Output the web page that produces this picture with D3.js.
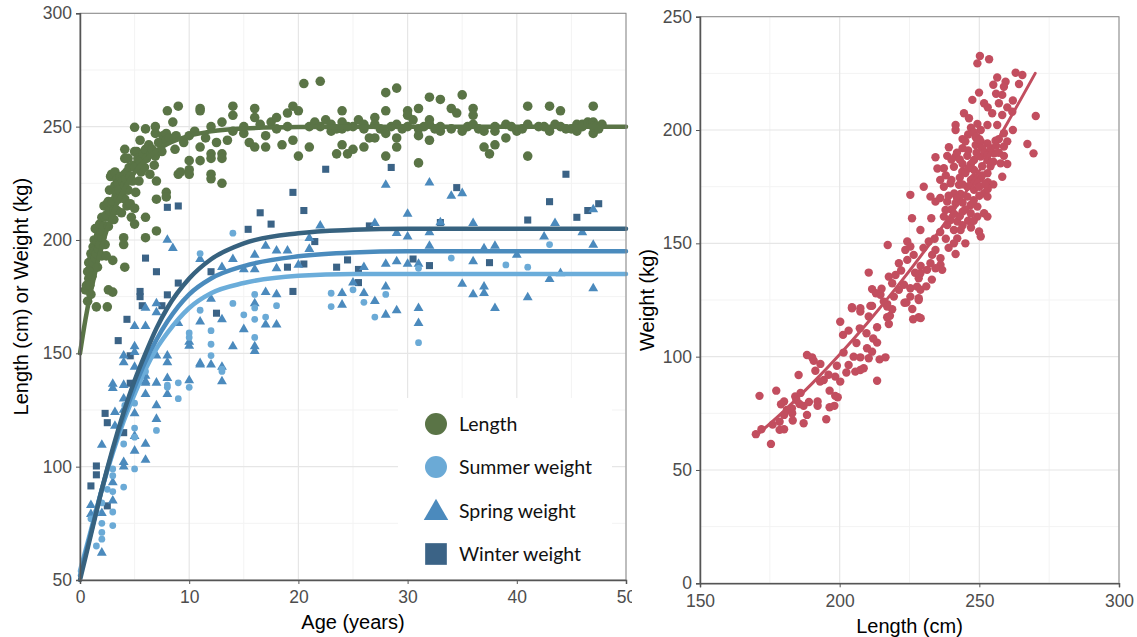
<!DOCTYPE html>
<html>
<head>
<meta charset="utf-8">
<script src="https://cdn.jsdelivr.net/npm/d3@7"></script>
<style>
  body { margin: 0; background: #fff; }
  svg { display: block; }
  .title { font-family: "Liberation Sans", Arimo, Arial, sans-serif; font-size: 20px; fill: #000; }
  .leg { font-family: Lato, "Open Sans", sans-serif; font-size: 19.5px; fill: #111; }
</style>
</head>
<body>
<script>
// ---- data: left panel (age in years, value) ----
const lengthPts = [
  [0.5,178],[0.6,180],[0.7,186],[0.7,173],[0.8,190],[0.8,183],[0.9,187],[0.9,180],[1.0,194],[1.0,176],[1.0,186],
  [1.1,184],[1.1,192],[1.2,197],[1.2,190],[1.3,200],[1.3,195],[1.4,205],[1.4,192],[1.5,194],[1.5,205],[1.5,170.5],
  [1.6,188],[1.6,199],[1.7,202],[1.7,196],[1.8,207],[1.8,198],[1.9,203],[2.0,193],[2.0,210],[2.0,201],[2.1,204],
  [2.2,215],[2.2,206],[2.3,210],[2.3,198],[2.4,193],[2.4,211],[2.5,216],[2.5,170.5],[2.6,217],[2.6,178],[2.6,206],
  [2.7,222],[2.7,213],[2.8,228],[2.9,229],[2.9,216],[3.0,191],[3.0,177],[3.0,217],[3.1,213],[3.1,209],[3.2,230],
  [3.2,224],[3.3,219],[3.3,221],[3.4,227],[3.4,213],[3.5,218],[3.5,225],[3.6,222],[3.7,228],[3.8,212],[3.9,226],
  [3.9,219],[4.0,201],[4.0,198],[4.1,240],[4.1,236],[4.1,229],[4.1,224],[4.1,218],[4.1,188],[4.2,227],[4.3,230],
  [4.3,215],[4.4,222],[4.4,236],[4.5,232],[4.6,216],[4.6,228],[4.7,210],[4.8,226],[4.9,233],[5.0,249.7],[5.0,232],
  [5.0,239],[5.0,214],[5.0,207],[5.1,221],[5.2,239],[5.3,236],[5.4,226],[5.5,244],[5.5,235],[5.6,230],[5.8,238],
  [5.9,232],[6.0,249],[6.0,240],[6.0,210],[6.0,201],[6.1,236],[6.3,242],[6.4,229],[6.5,238],[6.6,240],[6.8,233],
  [6.9,250],[6.9,247],[6.9,237],[7.0,226],[7.0,218],[7.0,204],[7.2,243],[7.5,239],[7.6,246],[7.9,247],[7.9,244],
  [7.9,221],[7.9,219],[8.0,257],[8.2,245],[8.5,252],[8.7,240],[8.8,246],[9.0,259],[9.0,229],[9.2,230],[9.5,243],
  [10,246],[10,235],[10,231],[10,229],[10.5,248],[11,258],[11,257],[11,241],[11,235],[11.5,245],[12,250],[12,238],
  [12,236],[12,229],[12,227],[12.5,243],[13,238],[13,236],[13,225],[13,252],[13.5,244],[14,259],[14,255],[14,248],
  [15,250],[15,247],[15.5,243],[16,258],[16,254],[16,241],[16.5,251],[17,246],[17,241],[17.5,252],[18,249],[18,254],
  [18.5,242],[19,256],[19,250],[19.5,259],[19.5,244],[20,257],[20,237],[20.5,269],[21,241],[21,250],[21.5,252],
  [22,270],[22,250],[22.5,253],[23,248],[23,251],[23.5,238],[23.5,249],[24,257],[24,252],[24,249],[24,242],
  [24.5,238],[24.5,250],[25,240],[25,250],[25.5,253],[26,241],[26,249],[26,251],[26.5,245],[27,254],[27,245],
  [27,251],[27.5,249],[28,265],[28,257],[28,247],[28,237],[28.5,250],[29,267],[29,251],[29,245],[29,241],
  [29.5,249],[30,257],[30,255],[30,250],[30.5,253],[31,258],[31,249],[31,246],[31,234],[31.5,250],[32,263],
  [32,253],[32,244],[32,251],[32.5,249],[33,262],[33,248],[33,250],[34,258],[34,249],[34.5,256],[35,264],[35,248],
  [35.5,250],[36,258],[36,255],[36,251],[36.5,249],[37,248],[37,241],[37.5,238],[38,248],[38,242],[38,250],[39,245],
  [39,251],[39.5,250],[40,248],[40.5,249],[41,259],[41,251],[41,237],[42,250],[42.5,250],[43,259],[43,248],
  [43.5,251],[44,257],[44,250],[44.5,249],[45,249],[45.5,251],[45.5,248],[46,251],[46,250],[46.5,252],[46.8,251],
  [47,259],[47,252],[47,247],[47,250],[47.3,250],[47.5,249],[47.8,251]
];
const summerPts = [
  [1.0,77],[1.5,65],[1.5,80],[2,68],[2,71],[2,75],[2,84],[2.5,90],[3,74],[3,80],[3,89],[3,96],[3,99],[4,91],
  [4,110],[4.1,127],[5,99],[5,113],[5,117],[5,128],[6,142],[7,116],[8,135],[8,136],[9,137],[9,130],[10,135],
  [10,157],[10,159],[11,169],[11,194],[12,160],[12,154],[12,149],[13,142],[13,143],[14,172],[14,203],[15,167],
  [16,176],[16,170],[16,165],[16,157],[17,166],[18,171],[23,176.5],[23,170.6],[25,178],[26,172.5],[27,166],
  [28,176],[31,187.5],[31,154.7],[34,192],[39,189],[41,188],[43,198]
];
const springPts = [
  [1,83],[1,79],[2,109.6],[2,62],[2,79.5],[3,136.5],[3,134.6],[3,93],[3,85],[3.2,124],[3.2,118],[4,136],[4,130],
  [4,125],[4,102],[4,100],[4,146],[4,149],[5,123.5],[5,113.5],[5,107],[5,144],[5,162],[5,153],[5,150.5],[6,137],
  [6,132],[6,110],[6,103],[6,140],[6,170],[6,162],[6,137.6],[7,137],[7,127],[7,121],[7,149],[7,172],[7,168],
  [8,139],[8,132],[8,200],[8,149],[8,146],[8.5,196.4],[9,163.3],[10,138],[10,155],[10,153.3],[11,145],[11,191.5],
  [11,164],[11,145.6],[12,145],[12,174],[13,144],[13,188],[13,165],[13,137.6],[14,191.5],[14,153],[15,187],
  [15,160.6],[16,193.4],[16,187],[16,172],[16,153],[16,151],[17,197.4],[17,177],[17,162.6],[18,195.3],[18,187.5],
  [18,176],[18,162.6],[19,195.3],[20,189],[21,200.8],[21,196],[22,206.3],[24,176.5],[24,171.4],[25,181.2],
  [26,188],[26,176.5],[27,207.4],[27,173],[28,224.3],[28,189.4],[28,179.4],[28,167],[29,203],[29,190.5],[29,168.9],
  [30,211.5],[30,201.5],[30,189.4],[31,189.4],[31,169.9],[31,163.3],[32,225.3],[32,203.3],[32,197.4],[33,207.7],
  [34,219.4],[35,220.6],[35,180.6],[36,207.4],[36,190.5],[36,176],[37,196.3],[37,179.4],[37,176.5],[38,197.4],
  [38,169.9],[40,193.4],[41,174.7],[42.5,201.5],[43,182.7],[43.5,207.4],[44,185.3],[46,203.3],[47,213.5],
  [47,197.8],[47,178.6]
];
const winterPts = [
  [1,91.5],[1.5,100.3],[1.5,96.4],[2.3,123.5],[2.5,119.4],[2.5,82.7],[3.5,155.6],[4,115],[4.3,165],[4.6,136.8],
  [4.6,148.9],[5.5,177.3],[5.5,175],[5.7,171],[6,192],[7,186],[7.5,171],[8,214.4],[8,175.8],[9,215],[9,181],
  [12,186],[12.5,167.7],[15.4,204.7],[16.5,212],[17.5,207],[19,188],[19.5,221],[19.5,177.3],[20.5,213],
  [20.5,189.4],[21.5,199.3],[22.5,231.2],[23.5,188],[24.5,191.2],[25.5,187],[25.5,181.2],[26.5,206.2],[28.5,232],
  [30.5,191.6],[32,188.7],[33,207.7],[34.5,223.1],[37.5,190],[41,208.8],[43,216.9],[44.5,229],[45.5,210],
  [46.5,213],[47.5,216]
];
// fitted growth curves
const lengthCurve = [[0,150],[0.5,165],[1,177.4],[1.5,188],[2,197.3],[3,211.7],[4,222.2],[5,229.8],[6,235.3],
  [7,239.4],[8,242.3],[10,245.9],[12,247.9],[15,249.2],[20,249.8],[30,250],[50,250]];
const winterCurve = [[0,50],[1,70],[2,90],[3,108],[4,124],[5,138],[6,150],[7,161],[8,170],[10,183],[12,191.5],
  [15,198.5],[20,203],[25,204.5],[30,205],[50,205]];
const springCurve = [[0,52],[1,71],[2,90],[3,107],[4,122],[5,135],[6,146.5],[7,156],[8,164],[10,176],[12,183],
  [15,188.5],[20,192.8],[25,194.5],[30,195],[50,195]];
const summerCurve = [[0,54],[1,72],[2,90],[3,106],[4,120],[5,132],[6,143],[7,152],[8,159],[10,170],[12,176.5],
  [15,181],[20,184.2],[25,185],[30,185],[50,185]];

// ---- data: right panel (length cm, weight kg) ----
const lwPts = [
  [170,65.8],[175.4,61.5],[171.3,82.7],[177.3,85],[180.1,80.2],[184.1,82.4],[184.5,80.9],[185.6,79.1],[187.1,78.3],
  [182.9,77.2],[181.1,76.5],[180.1,74.3],[178.5,71.3],[178.5,67.7],[180.1,68],[183.2,71.8],[187.1,70.6],[188.3,74.3],
  [185.3,91.9],[191.3,93.8],[193.1,96.8],[188.3,100.7],[190.1,99.7],[190.7,98.2],[192.1,80.2],[192.1,78.3],
  [195.2,72.4],[196.4,85],[198.4,82.7],[199.3,82.1],[196.4,77.7],[198.1,78.3],[194.3,89.7],[198.4,91.2],[200.2,89],
  [201.4,101.8],[200.2,115.4],[201.2,109.6],[203.2,111.5],[204.4,121.3],[207.4,119.9],[210.4,117.7],[211.6,122.4],
  [207.2,112.5],[209.6,110.3],[213.4,113],[213.4,106.2],[211.6,102.2],[210.4,99.3],[207.4,99.7],[209.8,103.7],
  [203.2,96.3],[202.4,93],[205.6,93.4],[207.4,94.1],[208.6,94.9],[213.4,89.4],[214.3,98.8],[216.4,99.7],[217,123.2],
  [218.8,120.9],[217,117.4],[217.6,114.4],[223.2,123.8],[226.3,116.5],[228.3,117.4],[228.3,125],
  [250.2,232.7],[253.5,231.2],[249.3,229.4],[256.4,223.2],[259.4,221.3],[263,225.3],[265.4,224.3],[264.2,220.3],
  [258.8,219.1],[270.2,206.2],[267.2,193.8],[269.4,189.7],[249.9,216.5],[247.5,213.3],[251.7,211.8],[258.2,215.5],
  [257,211.8],[261.8,208.1],[254.6,207.4],[258.2,206.6],[244.5,207.4],[246.3,205.2],[241.5,202.2],[241.5,200],
  [249.3,202.7],[250.5,200],[252.9,202.2],[256.4,202.2],[258.8,198.6],[248.7,196.8],[248.7,193.4],[250.5,194.9],
  [252.9,194.1],[255.8,195.3],[258.8,192.7],[258.8,188.6],[257.6,185.3],[258.2,179.4],[239.1,192.4],[234.3,188],
  [238.5,188.6],[241.5,188.3],[245.7,188.6],[248.1,186.8],[250.5,188.3],[252.9,186.8],[255.3,189.7],[252.9,180.9],
  [237.3,183.1],[240.9,183.8],[243.9,181.6],[248.1,182.4],[250.5,178.7],[237.3,175],[239.7,176.5],[242.7,175.8],
  [245.7,175],[248.1,173.6],[251.7,172.1],[252.9,170.6],[243.3,171.8],[245.7,170.6],[230.1,175],[232.5,170.6],
  [234.3,168.4],[225.3,171.4],[238.5,168.4],[241.5,167.7],[246.9,166.9],[249.3,166.2],[251.7,163.3],[252.9,161.8],
  [246.9,163.3],[249.3,161.8],[249.9,155.2],[250.5,153],[237.9,164.7],[237.3,161.8],[239.7,160.3],[242.1,159.6],
  [238.5,158.1],[240.9,155.9],[243.3,155.9],[242.1,152.2],[240.9,150],[241.5,145.3],[232.8,161.1],[228.9,155.9],
  [225.9,161.1],[231.9,150.8],[234.3,147.1],[233.1,144.9],[236.1,143.4],[236.1,140.5],[236.7,138.3],[232.5,141.2],
  [234.3,139],[231.3,138.3],[228.9,136.8],[228.3,134.6],[226.5,144.9],[224.2,150.8],[223.5,147.1],[225.3,148.6],
  [217.2,149.3],[221.2,141.2],[224.2,142.7],[210.4,137.1],[217.6,135.3],[218.8,132.4],[221.2,129.5],[223,131.7],
  [225.3,130.2],[227.7,130.9],[228.9,129.5],[228.3,125.8],[225.3,126.5],[223.9,123.9],[219.4,126.5],[211.6,129.8],
  [214.6,127.3],[215.8,124.3],[217,122.1],[204.4,121.8],[207.4,121.4],[211,122.4],
  [244,196],[246,191],[247,185],[249,190],[251,184],[253,177],[247,178],[244,168],[246,160],[245,150],[244,158],
  [240,165],[236,170],[244,185],[254,184],[255,176],[253,174],[250,171],[248,169],
  [242,190],[243,187],[244,192],[245,195],[246,198],[247,201],[248,199],[249,197],[250,196],[251,192],[252,190],
  [253,189],[254,192],[255,186],[256,193],[257,196],[243,179],[244,176],[245,181],[246,183],[247,176],[248,179],
  [249,177],[250,175],[251,180],[252,176],[240,178],[241,172],[242,170],[239,171],[238,180],[236,178],[235,183],
  [240,187],[241,163],[243,162],[244,164],[247,157],[248,160],[245,165],[236,155],[238,152],[239,148],[234,152],
  [230,148],[229,140],[227,137],[222,138],[220,136],[215,130],[213,128],[231,131],[233,134],[226,121],[229,117],
  [218,118],[212,108],[206,106],[205,100],[199,96],[196,92],[193,89],[186,84],[183,75],[189,80],[179,79],[176,70],
  [172,68],[260,210],[262,213],[256,216],[255,220],[253,210],[260,195],[262,200],[257,190],[260,185]
];
const lwCurve = [[170,65],[180,76],[190,88],[200,101],[210,115],[220,130],[230,146],[240,163],[250,182],[260,203],[270,225]];

const legendItems = [
  { label: "Length", shape: d3.symbolCircle, color: "#5a7446" },
  { label: "Summer weight", shape: d3.symbolCircle, color: "#6baad6" },
  { label: "Spring weight", shape: d3.symbolTriangle, color: "#4b8abd" },
  { label: "Winter weight", shape: d3.symbolSquare, color: "#3b6386" }
];

const W = 1137, H = 637;
const svg = d3.select("body").append("svg").attr("width", W).attr("height", H);
const tickFont = "'Liberation Sans', Arimo, Arial, Helvetica, sans-serif";

function gridLines(g, x, y, xMajor, xMinor, yMajor, yMinor, x0, x1, y0, y1) {
  g.append("g").selectAll("line").data(xMinor).join("line")
    .attr("x1", d => x(d)).attr("x2", d => x(d)).attr("y1", y0).attr("y2", y1)
    .attr("stroke", "#f3f3f3").attr("stroke-width", 1);
  g.append("g").selectAll("line").data(yMinor).join("line")
    .attr("y1", d => y(d)).attr("y2", d => y(d)).attr("x1", x0).attr("x2", x1)
    .attr("stroke", "#f3f3f3").attr("stroke-width", 1);
  g.append("g").selectAll("line").data(xMajor).join("line")
    .attr("x1", d => x(d)).attr("x2", d => x(d)).attr("y1", y0).attr("y2", y1)
    .attr("stroke", "#e6e6e6").attr("stroke-width", 1.2);
  g.append("g").selectAll("line").data(yMajor).join("line")
    .attr("y1", d => y(d)).attr("y2", d => y(d)).attr("x1", x0).attr("x2", x1)
    .attr("stroke", "#e6e6e6").attr("stroke-width", 1.2);
}

function drawAxes(g, x, y, xMajor, yMajor, x0, x1, y0, y1) {
  g.append("rect").attr("x", x0).attr("y", y0).attr("width", x1 - x0).attr("height", y1 - y0)
    .attr("fill", "none").attr("stroke", "#8a8a8a").attr("stroke-width", 1);
  const ax = g.append("g").attr("transform", `translate(0,${y1})`)
    .call(d3.axisBottom(x).tickValues(xMajor).tickSize(4).tickPadding(7));
  const ay = g.append("g").attr("transform", `translate(${x0},0)`)
    .call(d3.axisLeft(y).tickValues(yMajor).tickSize(4).tickPadding(4));
  [ax, ay].forEach(a => {
    a.attr("font-family", tickFont).attr("font-size", 17.5);
    a.selectAll(".tick text").attr("fill", "#4d4d4d");
    a.select(".domain").attr("stroke", "#555").attr("stroke-width", 1.5);
    a.selectAll(".tick line").attr("stroke", "#555");
  });
}

// ---------- left panel ----------
const L = { x0: 80, x1: 626, y0: 13.3, y1: 580 };
svg.append("clipPath").attr("id", "leftClip").append("rect")
  .attr("x", 0).attr("y", 0).attr("width", 632).attr("height", H);
const left = svg.append("g").attr("clip-path", "url(#leftClip)");
const xA = d3.scaleLinear().domain([0, 50]).range([L.x0, L.x1]);
const yA = d3.scaleLinear().domain([50, 300]).range([L.y1, L.y0]);

gridLines(left, xA, yA, d3.range(0, 51, 10), d3.range(5, 50, 10),
  d3.range(50, 301, 50), d3.range(75, 300, 50), L.x0, L.x1, L.y0, L.y1);

const sym = (shape, size) => d3.symbol().type(shape).size(size)();

function pts(data, shape, size, color) {
  left.append("g").selectAll("path").data(data).join("path")
    .attr("transform", d => `translate(${xA(d[0])},${yA(d[1])})`)
    .attr("d", sym(shape, size)).attr("fill", color);
}
pts(winterPts, d3.symbolSquare, 50, "#3b6386");
pts(springPts, d3.symbolTriangle, 42, "#4b8abd");
pts(summerPts, d3.symbolCircle, 36, "#6baad6");
pts(lengthPts, d3.symbolCircle, 72, "#5a7446");

const lineA = d3.line().x(d => xA(d[0])).y(d => yA(d[1])).curve(d3.curveMonotoneX);
[[summerCurve, "#6badda"], [springCurve, "#4a8bbd"], [winterCurve, "#37627f"], [lengthCurve, "#5a7446"]]
  .forEach(([c, col]) => {
    left.append("path").datum(c).attr("d", lineA).attr("fill", "none")
      .attr("stroke", col).attr("stroke-width", 4.5).attr("stroke-linecap", "round");
  });

// legend
const lg = left.append("g");
lg.append("rect").attr("x", 398).attr("y", 398).attr("width", 214).attr("height", 181).attr("fill", "#fff");
const legY = [424, 467, 511, 554];
const legSize = [380, 380, 260, 470];
legendItems.forEach((it, i) => {
  lg.append("path").attr("transform", `translate(436,${legY[i] + (it.shape === d3.symbolTriangle ? 2 : 0)})`)
    .attr("d", sym(it.shape, legSize[i])).attr("fill", it.color);
  lg.append("text").attr("class", "leg").attr("x", 459).attr("y", legY[i]).attr("dy", "0.35em").text(it.label);
});

drawAxes(left, xA, yA, d3.range(0, 51, 10), d3.range(50, 301, 50), L.x0, L.x1, L.y0, L.y1);

left.append("text").attr("class", "title").attr("text-anchor", "middle")
  .attr("x", (L.x0 + L.x1) / 2).attr("y", 629).text("Age (years)");
left.append("text").attr("class", "title").attr("text-anchor", "middle")
  .attr("transform", `translate(28,${(L.y0 + L.y1) / 2}) rotate(-90)`).text("Length (cm) or Weight (kg)");

// ---------- right panel ----------
const R = { x0: 700, x1: 1119, y0: 16.7, y1: 583.3 };
const right = svg.append("g");
const xB = d3.scaleLinear().domain([150, 300]).range([R.x0, R.x1]);
const yB = d3.scaleLinear().domain([0, 250]).range([R.y1, R.y0]);

gridLines(right, xB, yB, d3.range(150, 301, 50), d3.range(175, 300, 50),
  d3.range(0, 251, 50), d3.range(25, 250, 50), R.x0, R.x1, R.y0, R.y1);

right.append("g").selectAll("circle").data(lwPts).join("circle")
  .attr("cx", d => xB(d[0])).attr("cy", d => yB(d[1])).attr("r", 4.2).attr("fill", "#c24e5f");

right.append("path").datum(lwCurve)
  .attr("d", d3.line().x(d => xB(d[0])).y(d => yB(d[1])).curve(d3.curveMonotoneX))
  .attr("fill", "none").attr("stroke", "#c24e5f").attr("stroke-width", 3).attr("stroke-linecap", "round");

drawAxes(right, xB, yB, d3.range(150, 301, 50), d3.range(0, 251, 50), R.x0, R.x1, R.y0, R.y1);

right.append("text").attr("class", "title").attr("text-anchor", "middle")
  .attr("x", (R.x0 + R.x1) / 2).attr("y", 633).text("Length (cm)");
right.append("text").attr("class", "title").attr("text-anchor", "middle")
  .attr("transform", `translate(654,${(R.y0 + R.y1) / 2}) rotate(-90)`).text("Weight (kg)");
</script>
</body>
</html>
